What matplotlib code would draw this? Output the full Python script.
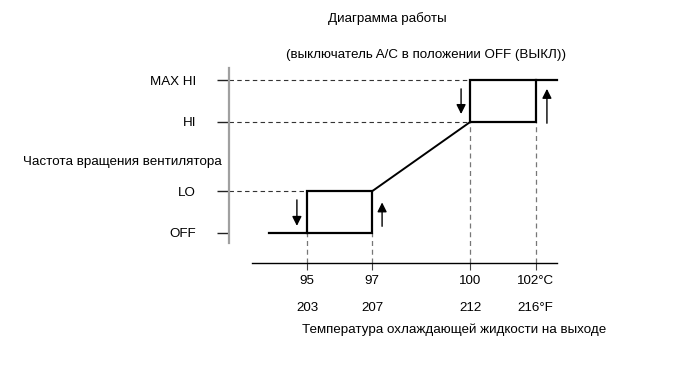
import numpy as np
import matplotlib
matplotlib.use('Agg')
import matplotlib.pyplot as plt
import matplotlib.transforms as mtransforms

plt.rcParams['font.family'] = ['Liberation Sans', 'DejaVu Sans']
plt.rcParams['font.size'] = 9.6

# data
temps_c = [95, 97, 100, 102]
temps_f = [203, 207, 212, 216]
level_names = ['OFF', 'LO', 'HI', 'MAX HI']
level_vals = [0, 1, 2.65, 3.65]
OFF, LO, HI, MAXHI = level_vals
t_off, t_lo, t_hi, t_max = temps_c

fig = plt.figure(figsize=(6.91, 3.69), dpi=100)
ax = fig.add_axes([0, 0, 1, 1])
ax.set_xlim(85.594, 106.764)
ax.set_ylim(-3.246, 5.561)
ax.patch.set_visible(False)

# axes
for s in ['top', 'right']:
    ax.spines[s].set_visible(False)
ax.spines['left'].set_position(('data', 92.61))
ax.spines['left'].set_bounds(-0.239, 3.938)
ax.spines['left'].set_color('#a0a0a0')
ax.spines['left'].set_linewidth(1.6)
ax.spines['bottom'].set_position(('data', -0.716))
ax.spines['bottom'].set_bounds(93.31, 102.66)
ax.spines['bottom'].set_linewidth(1.0)

ax.set_yticks(level_vals, level_names)
ax.tick_params(axis='y', length=8.6, width=1.0, color='#222222', pad=15)
ax.set_xticks(temps_c, [''] * len(temps_c))
ax.tick_params(axis='x', length=5, width=0.8, color='#444444')

# guide lines
dash = (0, (4, 3))
for lv, xe in zip([LO, HI, MAXHI], [t_off, t_hi, t_hi]):
    ax.plot([92.61, xe], [lv, lv], color='#333333', lw=0.8, ls=dash)
for t, lv in zip(temps_c, [OFF, OFF, HI, HI]):
    ax.plot([t, t], [-0.716, lv], color='#777777', lw=0.9, ls=dash)

# fan speed curve
ax.plot([93.84, t_lo, t_lo, t_off, t_off], [OFF, OFF, LO, LO, OFF],
        color='black', lw=1.6, solid_joinstyle='miter')
ax.plot([t_lo, t_hi], [LO, HI], color='black', lw=1.4)
ax.plot([t_max, t_max, t_hi, t_hi, 102.66], [MAXHI, HI, HI, MAXHI, MAXHI],
        color='black', lw=1.6, solid_joinstyle='miter')

# arrows
ap = dict(arrowstyle='-|>', color='black', lw=1.0, mutation_scale=14,
          shrinkA=0, shrinkB=0)
ax.annotate('', xy=(t_off - 0.31, OFF + 0.17), xytext=(t_off - 0.31, LO - 0.21), arrowprops=ap)
ax.annotate('', xy=(t_lo + 0.30, LO - 0.27), xytext=(t_lo + 0.30, OFF + 0.16), arrowprops=ap)
ax.annotate('', xy=(t_hi - 0.28, HI + 0.19), xytext=(t_hi - 0.28, MAXHI - 0.21), arrowprops=ap)
ax.annotate('', xy=(t_max + 0.35, MAXHI - 0.21), xytext=(t_max + 0.35, HI - 0.03), arrowprops=ap)

# temperature labels
tr = mtransforms.blended_transform_factory(ax.transData, ax.transAxes)
for i, (c, f) in enumerate(zip(temps_c, temps_f)):
    cu = '°C' if i == len(temps_c) - 1 else ''
    fu = '°F' if i == len(temps_f) - 1 else ''
    ax.text(c, 0.2385, f'{c}{cu}', transform=tr, ha='center', va='center')
    ax.text(c, 0.165, f'{f}{fu}', transform=tr, ha='center', va='center')

fig.text(0.560, 0.951, 'Диаграмма работы', ha='center', va='center')
fig.text(0.6165, 0.851, '(выключатель A/C в положении OFF (ВЫКЛ))', ha='center', va='center')
fig.text(0.321, 0.561, 'Частота вращения вентилятора', ha='right', va='center')
fig.text(0.657, 0.106, 'Температура охлаждающей жидкости на выходе', ha='center', va='center')

fig.savefig('out.png', dpi=100)
